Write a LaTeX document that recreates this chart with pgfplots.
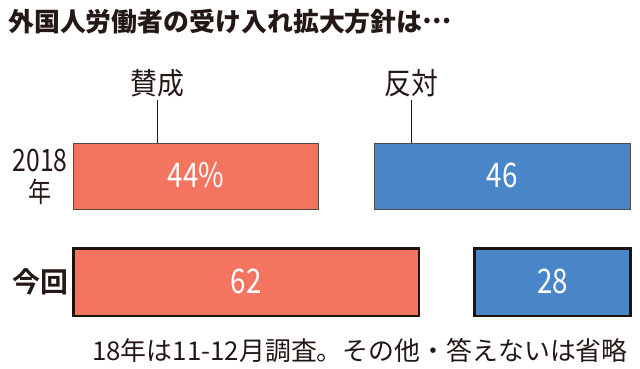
\documentclass[border=0pt]{standalone}
\usepackage{pgfplots}
\pgfplotsset{compat=1.18}
\usepackage{fontspec}
\usepackage{graphicx}
\setmainfont{Noto Sans CJK JP}[BoldFont={Noto Sans CJK JP Bold}]
\newfontfamily\titlefont{Noto Sans CJK JP Black}
\definecolor{txt}{HTML}{231815}
\definecolor{yes}{HTML}{F47460}
\definecolor{no}{HTML}{4886C8}
\definecolor{edge1}{HTML}{54483E}
\definecolor{edge2}{HTML}{1E140C}
\pgfplotsset{
  rowaxis/.style={
    at={(73.5bp,39bp)}, anchor=south west, scale only axis,
    width=557bp, height=200bp, xmin=0, xmax=100, ymin=-0.455, ymax=1.441,
    hide axis, xbar stacked, clip=false,
  },
  vallabel/.style={
    nodes near coords={\scalebox{0.82}[1]{\fontsize{34}{34}\selectfont\pgfplotspointmeta}},
    point meta=explicit symbolic,
    every node near coord/.append style={anchor=center, text=white, inner sep=0pt, yshift=1bp},
  },
}
\begin{document}
\begin{tikzpicture}
\useasboundingbox (0,0) rectangle (640bp,369bp);
\begin{axis}[rowaxis, bar width=66bp]
\addplot[fill=yes, draw=edge1, line width=1bp, vallabel] coordinates {(44,1) [44\%]};
\addplot[draw=none, fill=none] coordinates {(10,1)};
\addplot[fill=no, draw=edge1, line width=1bp, vallabel] coordinates {(46,1) [46]};
\end{axis}
\begin{axis}[rowaxis, bar width=67.5bp]
\addplot[fill=yes, draw=edge2, line width=2.5bp, vallabel] coordinates {(62,0) [62]};
\addplot[draw=none, fill=none] coordinates {(10,0)};
\addplot[fill=no, draw=edge2, line width=2.5bp, vallabel] coordinates {(28,0) [28]};
\end{axis}
\node[anchor=base west, inner sep=0, text=txt, font=\titlefont\fontsize{26}{26}\selectfont] at (8bp,337.5bp) {外国人労働者の受け入れ拡大方針は\raisebox{0.32em}{…}};
\node[anchor=base, inner sep=0, text=txt] at (157bp,274bp) {\scalebox{0.9}[1]{\fontsize{30}{30}\selectfont 賛成}};
\draw[txt, line width=1bp] (157bp,269bp) -- (157bp,226bp);
\node[anchor=base, inner sep=0, text=txt] at (411.5bp,274bp) {\scalebox{0.9}[1]{\fontsize{30}{30}\selectfont 反対}};
\draw[txt, line width=1bp] (411.5bp,269bp) -- (411.5bp,226bp);
\node[anchor=base, inner sep=0, text=txt] at (40bp,197bp) {\scalebox{0.8}[1]{\fontsize{31}{31}\selectfont 2018}};
\node[anchor=base, inner sep=0, text=txt] at (40bp,166bp) {\scalebox{0.83}[1]{\fontsize{28}{28}\selectfont 年}};
\node[anchor=base, inner sep=0, text=txt, font=\bfseries\fontsize{28}{28}\selectfont] at (40bp,76bp) {今回};
\node[anchor=base east, inner sep=0, text=txt, font=\fontsize{26}{26}\selectfont] at (628bp,9bp) {18年は11-12月調査。その他・答えないは省略};
\end{tikzpicture}
\end{document}
